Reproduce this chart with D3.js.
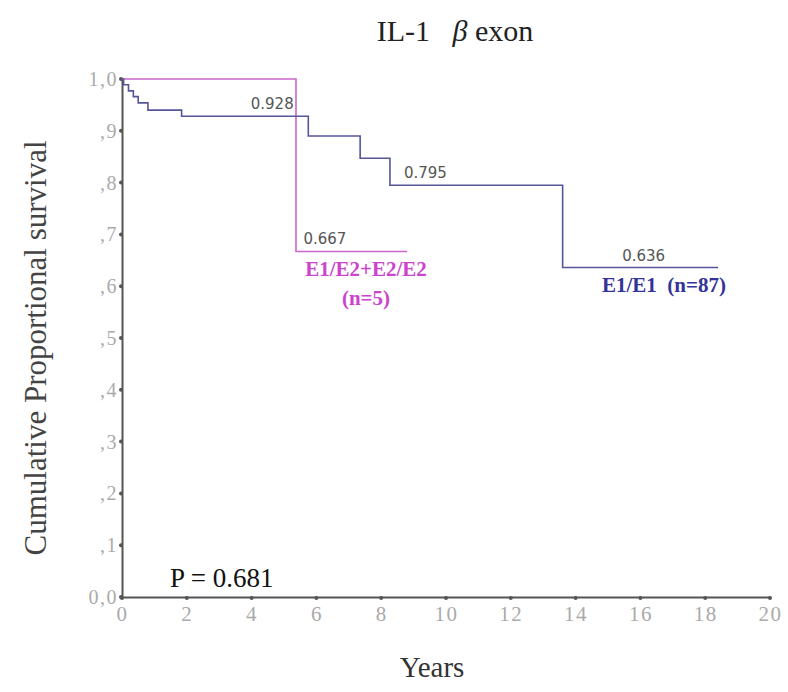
<!DOCTYPE html>
<html>
<head>
<meta charset="utf-8">
<script src="https://cdn.jsdelivr.net/npm/d3@7"></script>
<style>
  body { margin: 0; background: #fff; }
  svg { display: block; }
  .tick text { font-family: 'Liberation Serif', 'Times New Roman', serif; fill: #aaa; letter-spacing: 1.5px; }
</style>
</head>
<body>
<svg width="788" height="692"></svg>
<script>
// survival steps [years, cumulative survival]
const e1e1 = [
  [0, 1.0], [0.05, 0.989], [0.2, 0.977], [0.35, 0.966], [0.5, 0.954],
  [0.8, 0.940], [1.84, 0.928], [5.75, 0.890], [7.35, 0.847],
  [8.27, 0.795], [13.6, 0.636], [18.4, 0.636]
]
const e2 = [[0, 1.0], [5.37, 0.667], [8.8, 0.667]]

const xTicks = [0, 2, 4, 6, 8, 10, 12, 14, 16, 18, 20]
const yTicks = [0, 0.1, 0.2, 0.3, 0.4, 0.5, 0.6, 0.7, 0.8, 0.9, 1.0]
const yTickLabels = ["0,0", ",1", ",2", ",3", ",4", ",5", ",6", ",7", ",8", ",9", "1,0"]

// value labels placed on the curves
const valueLabels = [
  { t: 5.3, v: 0.928, text: "0.928", anchor: "end" },
  { t: 5.6, v: 0.667, text: "0.667", anchor: "start" },
  { t: 8.7, v: 0.795, text: "0.795", anchor: "start" },
  { t: 16.1, v: 0.636, text: "0.636", anchor: "middle" }
]

const svg = d3.select("svg")
const x = d3.scaleLinear().domain([0, 20]).range([122, 770])
const y = d3.scaleLinear().domain([0, 1]).range([597, 79])

const serif = "'Liberation Serif', 'Times New Roman', serif"
const sans = "'DejaVu Sans', sans-serif"

// title
const title = svg.append("text")
  .attr("x", 455).attr("y", 41)
  .attr("text-anchor", "middle")
  .attr("font-family", serif).attr("font-size", 30).attr("fill", "#222")
  .attr("xml:space", "preserve")
title.append("tspan").text("IL-1   ")
title.append("tspan").attr("font-style", "italic").text("β")
title.append("tspan").text(" exon")

// axes
const axisColor = "#555"
const xAxis = d3.axisBottom(x).tickValues(xTicks).tickSize(0).tickPadding(9)
const gx = svg.append("g").attr("transform", `translate(0,${y(0)})`).call(xAxis)
  .attr("font-family", serif).attr("font-size", 21)
gx.select(".domain").attr("stroke", axisColor).attr("stroke-width", 2)
gx.selectAll(".tick text").style("font-size", "21px")

const yAxis = d3.axisLeft(y).tickValues(yTicks).tickSize(0).tickPadding(4)
  .tickFormat((d, i) => yTickLabels[i])
const gy = svg.append("g").attr("transform", `translate(${x(0)},0)`).call(yAxis)
  .attr("font-family", serif).attr("font-size", 20)
gy.select(".domain").attr("stroke", axisColor).attr("stroke-width", 2)
gy.selectAll(".tick text").style("font-size", "20px")

// tick dots
svg.selectAll(".xdot").data(xTicks).enter().append("circle")
  .attr("cx", d => x(d)).attr("cy", y(0) + 1).attr("r", 2).attr("fill", axisColor)
svg.selectAll(".ydot").data(yTicks).enter().append("circle")
  .attr("cx", x(0) - 1).attr("cy", d => y(d)).attr("r", 2).attr("fill", axisColor)

// axis titles
svg.append("text")
  .attr("transform", `translate(46,${(y(0) + y(1)) / 2 + 10}) rotate(-90)`)
  .attr("text-anchor", "middle")
  .attr("font-family", serif).attr("font-size", 31).attr("fill", "#444")
  .text("Cumulative Proportional survival")
svg.append("text")
  .attr("x", 432).attr("y", 677)
  .attr("text-anchor", "middle")
  .attr("font-family", serif).attr("font-size", 29).attr("fill", "#333")
  .text("Years")

// curves
const step = d3.line().x(d => x(d[0])).y(d => y(d[1])).curve(d3.curveStepAfter)
svg.append("path").datum(e2)
  .attr("d", step).attr("fill", "none")
  .attr("stroke", "#cc66cc").attr("stroke-width", 1.6)
svg.append("path").datum(e1e1)
  .attr("d", step).attr("fill", "none")
  .attr("stroke", "#55559a").attr("stroke-width", 1.6)

// value labels
svg.selectAll(".vl").data(valueLabels).enter().append("text")
  .attr("x", d => x(d.t)).attr("y", d => y(d.v) - 7)
  .attr("text-anchor", d => d.anchor)
  .attr("font-family", sans).attr("font-size", 15).attr("fill", "#555")
  .text(d => d.text)

// group labels
const grp = { "font-family": serif, "font-size": 21, "font-weight": "bold" }
svg.append("text")
  .attr("x", 366).attr("y", 276)
  .attr("text-anchor", "middle")
  .attr("font-family", grp["font-family"]).attr("font-size", grp["font-size"]).attr("font-weight", grp["font-weight"])
  .attr("fill", "#cc44cc")
  .text("E1/E2+E2/E2")
svg.append("text")
  .attr("x", 366).attr("y", 305)
  .attr("text-anchor", "middle")
  .attr("font-family", grp["font-family"]).attr("font-size", grp["font-size"]).attr("font-weight", grp["font-weight"])
  .attr("fill", "#cc44cc")
  .text("(n=5)")
svg.append("text")
  .attr("x", 664).attr("y", 292)
  .attr("text-anchor", "middle")
  .attr("font-family", grp["font-family"]).attr("font-size", grp["font-size"]).attr("font-weight", grp["font-weight"])
  .attr("fill", "#333399")
  .attr("xml:space", "preserve")
  .text("E1/E1  (n=87)")

// p-value
svg.append("text")
  .attr("x", 170).attr("y", 587)
  .attr("font-family", serif).attr("font-size", 27).attr("fill", "#111")
  .text("P = 0.681")
</script>
</body>
</html>
